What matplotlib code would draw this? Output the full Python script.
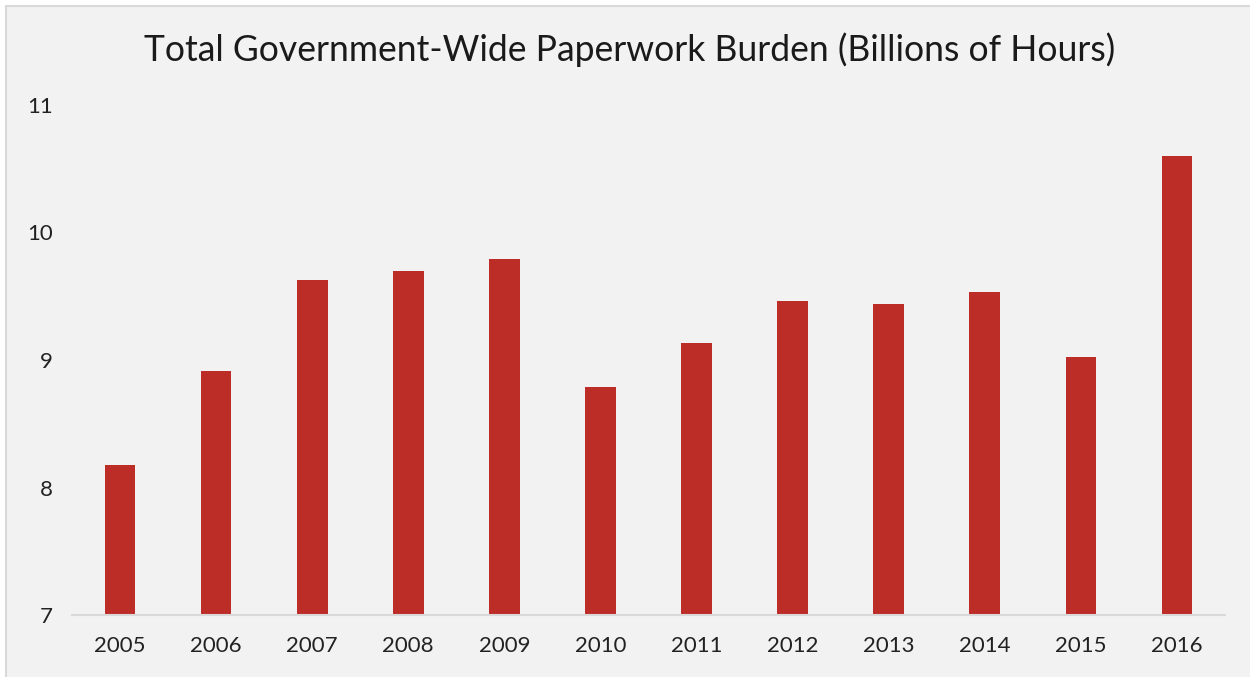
import matplotlib.pyplot as plt
from matplotlib.patches import Rectangle

years = ['2005', '2006', '2007', '2008', '2009', '2010',
         '2011', '2012', '2013', '2014', '2015', '2016']
hours = [8.18, 8.91, 9.63, 9.70, 9.79, 8.79, 9.13, 9.46, 9.44, 9.53, 9.02, 10.60]
y_ticks = [7, 8, 9, 10, 11]

plt.rcParams['font.family'] = ['Lato', 'DejaVu Sans']

fig = plt.figure(figsize=(12.5, 6.77), dpi=100, facecolor='white')
# panel background with thin border
fig.patches.append(Rectangle((6 / 1250, -0.01), 1.02, 1 - 6 / 677 + 0.01,
                             transform=fig.transFigure, facecolor='#f2f2f2',
                             edgecolor='#d9d9d9', linewidth=1.5, zorder=-10))

ax = fig.add_axes([72 / 1250, 1 - 615 / 677, (1225 - 72) / 1250, (615 - 105) / 677])
ax.set_facecolor('none')

x = range(len(years))
ax.bar(x, [h - 7 for h in hours], bottom=7, width=0.32, color='#bb2d26', zorder=2)

ax.set_xlim(-0.5, len(years) - 0.5)
ax.set_ylim(7, 11)
ax.set_xticks(list(x))
ax.set_xticklabels(years)
ax.set_yticks(y_ticks)
ax.set_yticklabels([str(t) for t in y_ticks])
ax.tick_params(axis='both', length=0, labelsize=16, colors='#222222')
ax.tick_params(axis='x', pad=15)
ax.tick_params(axis='y', pad=14)

for side in ['top', 'right', 'left']:
    ax.spines[side].set_visible(False)
ax.spines['bottom'].set_color('#d9d9d9')
ax.spines['bottom'].set_linewidth(1.5)

fig.text(0.504, 1 - 50 / 677, 'Total Government-Wide Paperwork Burden (Billions of Hours)',
         ha='center', va='center', fontsize=25.6, color='#1a1a1a')

fig.savefig('out.png', dpi=100, facecolor=fig.get_facecolor())
